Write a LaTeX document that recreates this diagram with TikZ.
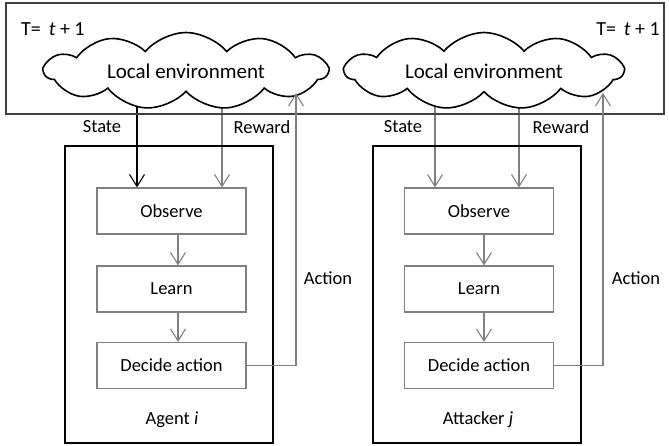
\documentclass[tikz,border=0pt]{standalone}
\usepackage{fontspec}
\setmainfont{Carlito}
\usetikzlibrary{shapes.symbols,arrows.meta,backgrounds}
\definecolor{lgray}{RGB}{128,128,128}
\definecolor{dgray}{RGB}{64,64,64}
\begin{document}
\begin{tikzpicture}[x=1pt,y=-1pt,
  lab/.style={font=\fontsize{18.5}{21}\selectfont, inner sep=0pt},
  stepbox/.style={draw=lgray, line width=1.1pt, minimum width=149pt, minimum height=46pt, font=\fontsize{18.5}{21}\selectfont, inner sep=0pt},
  outerbox/.style={draw=black, line width=2.4pt, minimum width=208pt, minimum height=297pt, inner sep=0pt},
  envcloud/.style={cloud, draw=black, fill=white, line width=1.6pt, cloud puffs=11, cloud puff arc=100, cloud ignores aspect, minimum height=77pt, inner sep=0pt, font=\fontsize{21}{24}\selectfont},
  garr/.style={draw=lgray, line width=1.1pt, -{Straight Barb[length=12pt,width=15pt,line width=1.1pt]}},
  barr/.style={draw=black, line width=1.1pt, -{Straight Barb[length=12pt,width=15pt,line width=1.1pt]}},
  gline/.style={draw=lgray, line width=1.1pt}
]
\useasboundingbox (0,0) rectangle (669,446);
% environment band
\node[draw=dgray, line width=1.1pt, minimum width=658pt, minimum height=111pt, inner sep=0pt] (band) at (335,58.5) {};
\node[lab, font=\fontsize{20}{23}\selectfont, anchor=west] (T1) at (21,29) {T=\, \textit{t} + 1};
\node[lab, font=\fontsize{20}{23}\selectfont, anchor=east] (T2) at (660,29) {T=\, \textit{t} + 1};
% clouds
\node[envcloud, minimum width=283pt] (cloud1) at (186,71) {Local environment};
\node[envcloud, minimum width=278pt] (cloud2) at (484,71) {Local environment};
% agent boxes
\node[outerbox] (agent) at (169,294.5) {};
\node[outerbox] (attacker) at (477,294.5) {};
\node[stepbox] (obs1) at (171.5,211) {Observe};
\node[stepbox] (lea1) at (171.5,289) {Learn};
\node[stepbox] (dec1) at (171.5,365.5) {Decide action};
\node[stepbox] (obs2) at (479,211) {Observe};
\node[stepbox] (lea2) at (479,289) {Learn};
\node[stepbox] (dec2) at (479,365.5) {Decide action};
\node[lab] (ag) at (172,420) {Agent \textit{i}};
\node[lab] (at) at (478,420) {Attacker \textit{j}};
% labels
\node[lab] (st1) at (102,127) {State};
\node[lab] (rw1) at (262,127) {Reward};
\node[lab] (ac1) at (328,278) {Action};
\node[lab] (st2) at (403,127) {State};
\node[lab] (rw2) at (561,127) {Reward};
\node[lab] (ac2) at (636,278) {Action};
% coordinates
\coordinate (s1) at (137,0);
\coordinate (r1) at (222,0);
\coordinate (s2) at (435,0);
\coordinate (r2) at (519,0);
\coordinate (a1) at (296,93);
\coordinate (a2) at (603,93);
\coordinate (l1) at (178,0);
\coordinate (l2) at (484,0);
\begin{scope}[on background layer]
\draw[barr] (cloud1.center -| s1) -- (obs1.north -| s1);
\draw[garr] (cloud1.center -| r1) -- (obs1.north -| r1);
\draw[garr] (cloud2.center -| s2) -- (obs2.north -| s2);
\draw[garr] (cloud2.center -| r2) -- (obs2.north -| r2);
\end{scope}
\draw[garr] (obs1.south -| l1) -- (lea1.north -| l1);
\draw[garr] (lea1.south -| l1) -- (dec1.north -| l1);
\draw[garr] (obs2.south -| l2) -- (lea2.north -| l2);
\draw[garr] (lea2.south -| l2) -- (dec2.north -| l2);
\draw[garr] (dec1.east) -| (a1);
\draw[garr] (dec2.east) -| (a2);
\end{tikzpicture}
\end{document}
